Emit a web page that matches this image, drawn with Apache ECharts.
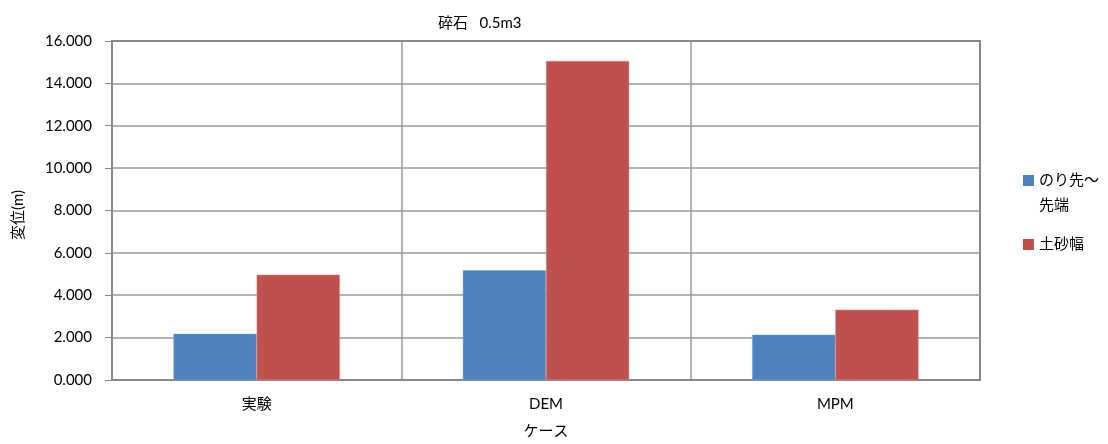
<!DOCTYPE html>
<html>
<head>
<meta charset="utf-8">
<script src="https://cdn.jsdelivr.net/npm/echarts@6/dist/echarts.min.js"></script>
<style>html,body{margin:0;padding:0;background:#fff;}#c{width:1108px;height:444px;}</style>
</head>
<body>
<div id="c"></div>
<script>
const categories = ['実験', 'DEM', 'MPM'];
const seriesNames = ['のり先～先端', '土砂幅'];
const slopeToeValues = [2.18, 5.18, 2.14];
const widthValues = [4.97, 15.06, 3.32];
const yTicks = { min: 0, max: 16, interval: 2 };
const titleText = '碎石   0.5m3';
const yName = '変位(m)';
const xName = 'ケース';

const FONT = "Lato, 'Noto Sans CJK JP', sans-serif";
const chart = echarts.init(document.getElementById('c'), null, { renderer: 'canvas' });
chart.setOption({
  animation: false,
  backgroundColor: '#fff',
  textStyle: { fontFamily: FONT },
  title: {
    text: titleText, left: 433, top: 11,
    textStyle: { fontFamily: FONT, fontSize: 15, fontWeight: 'normal', color: '#000' }
  },
  grid: { left: 112, right: 128, top: 41, bottom: 64, show: true, borderColor: '#222', borderWidth: 1.5, containLabel: false },
  legend: {
    orient: 'vertical', left: 1023, top: 143, itemWidth: 11, itemHeight: 11, itemGap: 14,
    padding: 0,
    icon: 'rect',
    itemStyle: { borderWidth: 0 },
    textStyle: { fontFamily: FONT, fontSize: 15, color: '#000', lineHeight: 25 },
    formatter: function (n) { return n === seriesNames[0] ? '\nのり先～\n先端' : n; },
    data: [seriesNames[0], seriesNames[1]]
  },
  xAxis: {
    type: 'category', data: categories,
    name: xName, nameLocation: 'middle', nameGap: 44,
    nameTextStyle: { fontFamily: FONT, fontSize: 15, color: '#000' },
    axisLine: { lineStyle: { color: '#888', width: 2 } },
    axisTick: { show: false },
    axisLabel: { fontFamily: FONT, fontSize: 15, color: '#000', margin: 17 },
    splitLine: { show: true, lineStyle: { color: '#999', width: 1.5 } }
  },
  yAxis: {
    type: 'value', min: yTicks.min, max: yTicks.max, interval: yTicks.interval,
    axisLine: { show: true, lineStyle: { color: '#888', width: 1.5 } },
    axisTick: { show: true, length: 7, lineStyle: { color: '#888' } },
    axisLabel: { fontFamily: FONT, fontSize: 15, color: '#000', margin: 20,
      formatter: function (v) { return v.toFixed(3); } },
    splitLine: { show: true, lineStyle: { color: '#999', width: 1.5 } }
  },
  graphic: [{
    type: 'text', left: 11, top: 190, rotation: Math.PI / 2,
    style: { text: yName, fontFamily: FONT, fontSize: 15, fill: '#000' }
  }],
  series: [
    { name: seriesNames[0], type: 'bar', data: slopeToeValues, barGap: '0%', barCategoryGap: '42.5%',
      itemStyle: { color: '#4F81BD', borderColor: '#7fa3d0', borderWidth: 0.5 } },
    { name: seriesNames[1], type: 'bar', data: widthValues, barGap: '0%', barCategoryGap: '42.5%',
      itemStyle: { color: '#C0504D', borderColor: '#d98a88', borderWidth: 0.5 } }
  ]
});
</script>
</body>
</html>
